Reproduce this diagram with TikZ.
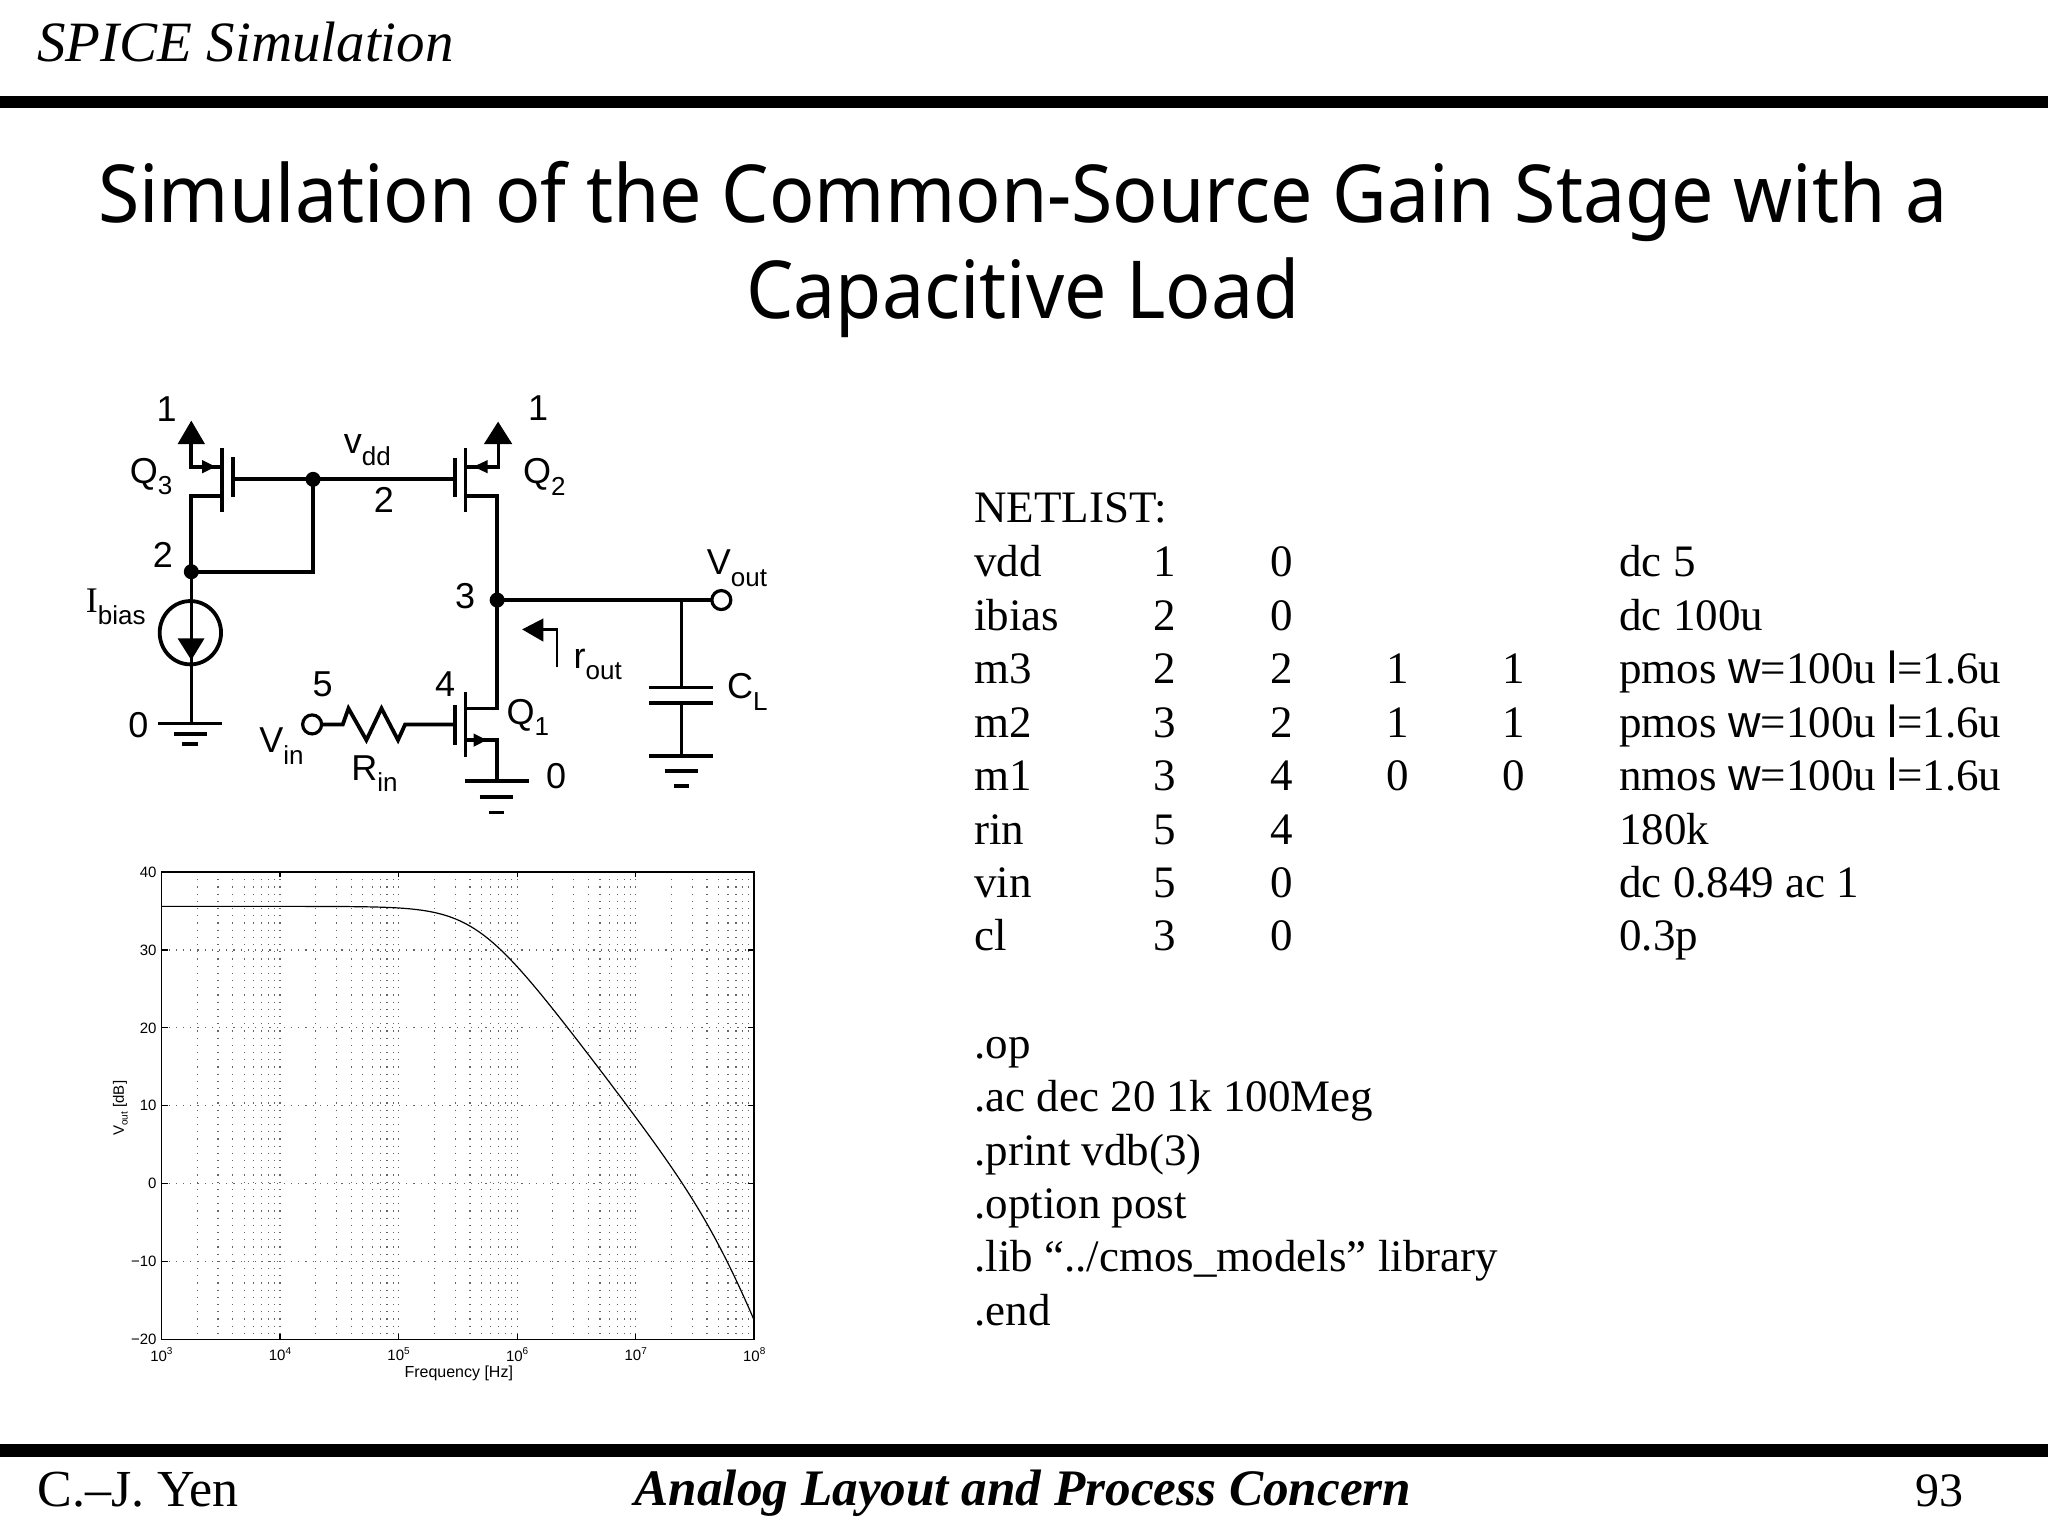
\documentclass[tikz,border=0pt]{standalone}
\usepackage{fontspec}
\setmainfont{Liberation Serif}
\setsansfont{Liberation Sans}
\newfontfamily\titlefont[FakeStretch=0.94]{Noto Sans}
\usetikzlibrary{calc}
\newcommand{\lsub}[1]{\raisebox{-0.32em}{\fontsize{13}{13}\selectfont\sffamily #1}}
\newcommand{\wl}[1]{{\sffamily #1}}
\tikzset{
  wire/.style={line width=1.9pt,line join=miter},
  thin wire/.style={line width=1.4pt},
  dotn/.style={circle,fill=black,inner sep=0pt,minimum size=7.5pt},
  term/.style={circle,draw=black,line width=1.6pt,fill=white,inner sep=0pt,minimum size=9.5pt},
  head/.style={fill=black,draw=none},
  lab/.style={font=\sffamily\fontsize{18}{18}\selectfont,inner sep=0pt},
  net/.style={font=\fontsize{22.5}{22.5}\selectfont,anchor=base west,inner sep=0pt},
  netc/.style={font=\fontsize{22.5}{22.5}\selectfont,anchor=base,inner sep=0pt},
  tick/.style={font=\sffamily\fontsize{7.5}{7.5}\selectfont,inner sep=0pt},
  griddot/.style={line width=0.6pt,dash pattern=on 0.6pt off 3pt,black!60},
}
\newcommand{\nrow}[8]{%
  \node[net] (nm#1) at (974,#2) {#3};
  \node[netc] (a#1) at (1165,#2) {#4};
  \node[netc] (b#1) at (1282,#2) {#5};
  \node[netc] (c#1) at (1398,#2) {#6};
  \node[netc] (d#1) at (1514,#2) {#7};
  \node[net] (e#1) at (1619,#2) {#8};
}
\begin{document}
\begin{tikzpicture}[x=0.5pt,y=-0.5pt]
\useasboundingbox (0,0) rectangle (2048,1536);
\fill[white] (0,0) rectangle (2048,1536);
% frame
\fill[black] (0,96) rectangle (2048,108);
\fill[black] (0,1444) rectangle (2048,1457);
\node[anchor=base west,inner sep=0pt,font=\itshape\fontsize{28.5}{28.5}\selectfont] (hdr) at (37,62) {SPICE Simulation};
\node[anchor=base,inner sep=0pt,font=\titlefont\fontsize{40}{40}\selectfont] (t1) at (1023,222) {Simulation of the Common-Source Gain Stage with a};
\node[anchor=base,inner sep=0pt,font=\titlefont\fontsize{40}{40}\selectfont] (t2) at (1023,318) {Capacitive Load};
\node[anchor=base west,inner sep=0pt,font=\fontsize{26}{26}\selectfont] (auth) at (37,1506) {C.–J. Yen};
\node[anchor=base,inner sep=0pt,font=\bfseries\itshape\fontsize{25.6}{25.6}\selectfont] (book) at (1023,1505) {Analog Layout and Process Concern};
\node[anchor=base east,inner sep=0pt,font=\fontsize{24}{24}\selectfont] (pg) at (1964,1506) {93};
% netlist
\node[net] (nlh) at (974,522) {NETLIST:};
\nrow{1}{576}{vdd}{1}{0}{}{}{dc 5}
\nrow{2}{630}{ibias}{2}{0}{}{}{dc 100u}
\nrow{3}{683}{m3}{2}{2}{1}{1}{pmos \wl{w}=100u \wl{l}=1.6u}
\nrow{4}{737}{m2}{3}{2}{1}{1}{pmos \wl{w}=100u \wl{l}=1.6u}
\nrow{5}{790}{m1}{3}{4}{0}{0}{nmos \wl{w}=100u \wl{l}=1.6u}
\nrow{6}{844}{rin}{5}{4}{}{}{180k}
\nrow{7}{897}{vin}{5}{0}{}{}{dc 0.849 ac 1}
\nrow{8}{950}{cl}{3}{0}{}{}{0.3p}
\node[net] (op) at (974,1058) {.op};
\node[net] (ac) at (974,1111) {.ac dec 20 1k 100Meg};
\node[net] (pr) at (974,1165) {.print vdb(3)};
\node[net] (opt) at (974,1218) {.option post};
\node[net] (libr) at (974,1271) {.lib “../cmos\_models” library};
\node[net] (end) at (974,1325) {.end};
% circuit, in coordinates of the crop
\begin{scope}[shift={(70,380)},x=0.236pt,y=-0.1667pt]
\coordinate (g3) at (345,298);
\coordinate (g2) at (815,298);
\coordinate (n2) at (515,298);
\coordinate (n2b) at (257,575);
\coordinate (n3) at (905,660);
\coordinate (vo) at (1380,660);
\coordinate (vi) at (513,1033);
\coordinate (capn) at (1295,660);
% Q3
\draw[wire] (322,205) -- (322,395);
\draw[wire] (345,232) -- (345,352);
\draw[wire] (257,190) -- (257,260) -- (322,260);
\fill[head] (280,240) -- (308,260) -- (280,280) -- cycle;
\fill[head] (257,122) -- (228,192) -- (286,192) -- cycle;
\draw[wire] (322,347) -- (257,347) -- (n2b);
\draw[wire] (g3) -- (g2);
\draw[wire] (n2b) -- (515,575) -- (n2);
\node[dotn] (d2) at (n2) {};
\node[dotn] (d2b) at (n2b) {};
% Ibias
\draw[thin wire] (n2b) -- (257,1030);
\draw[wire] (255,758) ellipse [x radius=65,y radius=95];
\fill[head] (228,775) -- (285,775) -- (257,840) -- cycle;
\draw[wire] (187,1030) -- (322,1030);
\draw[wire] (220,1062) -- (290,1062);
\draw[wire] (238,1092) -- (272,1092);
% Q2
\draw[wire] (815,235) -- (815,352);
\draw[wire] (838,205) -- (838,395);
\draw[wire] (838,260) -- (908,260) -- (908,190);
\fill[head] (885,240) -- (855,260) -- (885,280) -- cycle;
\fill[head] (907,125) -- (877,192) -- (937,192) -- cycle;
\draw[wire] (838,347) -- (905,347) -- (905,985) -- (838,985);
% Q1
\draw[wire] (838,935) -- (838,1130);
\draw[wire] (815,975) -- (815,1095);
\draw[wire] (838,1080) -- (905,1080) -- (905,1203);
\fill[head] (855,1060) -- (883,1080) -- (855,1100) -- cycle;
\draw[wire] (837,1203) -- (972,1203);
\draw[wire] (868,1250) -- (938,1250);
\draw[wire] (888,1297) -- (920,1297);
% input
\draw[wire] (vi) -- (578,1033) -- (590,985) -- (628,1080) -- (660,985) -- (695,1080) -- (710,1033) -- (815,1033);
\node[term] (vin) at (vi) {};
% output
\draw[wire] (n3) -- (vo);
\node[term] (vout) at (vo) {};
\node[dotn] (d3) at (n3) {};
\draw[thin wire] (capn) -- (1295,922);
\draw[wire] (1227,922) -- (1363,922);
\draw[wire] (1227,968) -- (1363,968);
\draw[thin wire] (1295,968) -- (1295,1127);
\draw[wire] (1227,1127) -- (1363,1127);
\draw[wire] (1260,1172) -- (1330,1172);
\draw[wire] (1280,1218) -- (1312,1218);
% rout
\fill[head] (958,748) -- (1003,715) -- (1003,785) -- cycle;
\draw[thin wire] (1000,748) -- (1032,748) -- (1032,860);
% labels
\node[lab] (l1a) at (205,88) {1};
\node[lab] (l1b) at (992,85) {1};
\node[lab] (lq3) at (172,290) {Q\lsub{3}};
\node[lab] (lq2) at (1005,290) {Q\lsub{2}};
\node[lab] (lq1) at (970,1012) {Q\lsub{1}};
\node[lab] (lv) at (630,210) {v\lsub{dd}};
\node[lab] (l2a) at (665,360) {2};
\node[lab] (l2b) at (197,525) {2};
\node[lab] (l3) at (837,647) {3};
\node[lab] (l4) at (795,912) {4};
\node[lab] (l5) at (535,912) {5};
\node[lab] (l0a) at (145,1035) {0};
\node[lab] (l0b) at (1030,1188) {0};
\node[lab,font=\fontsize{18}{18}\selectfont] (libs) at (97,680) {I\lsub{bias}};
\node[lab] (lvo) at (1413,565) {V\lsub{out}};
\node[lab] (lvi) at (448,1098) {V\lsub{in}};
\node[lab] (lrin) at (645,1180) {R\lsub{in}};
\node[lab] (lro) at (1118,853) {r\lsub{out}};
\node[lab] (lcl) at (1435,935) {C\lsub{L}};
\end{scope}
% plot, in coordinates of the crop
\begin{scope}[shift={(90,848)},x=0.2232pt,y=-0.177pt,
  declare function={px(\d)=160+(\d-3)*265.6; py(\v)=68+(40-\v)*22;
  lpole(\z)=20*max(\z,0)+10*log10(1+pow(10,-2*min(abs(\z),2)));
  gain(\d)=35.6-lpole(\d-5.653)-lpole(\d-7.748);}]
\foreach \dec in {3,...,7}{
  \foreach \m in {1,...,9}{
    \pgfmathsetmacro{\gx}{160+(\dec-3+log10(\m))*265.6}
    \draw[griddot] (\gx,68) -- (\gx,1388);
  }
}
\foreach \v in {-10,0,...,30}{
  \pgfmathsetmacro{\gy}{68+(40-\v)*22}
  \draw[griddot] (160,\gy) -- (1488,\gy);
  \draw[line width=0.6pt] (160,\gy) -- (175,\gy);
  \draw[line width=0.6pt] (1488,\gy) -- (1473,\gy);
}
\foreach \dec in {3,...,8}{
  \pgfmathsetmacro{\gx}{160+(\dec-3)*265.6}
  \draw[line width=0.6pt] (\gx,68) -- (\gx,83);
  \draw[line width=0.6pt] (\gx,1388) -- (\gx,1373);
  \node[tick] (xt\dec) at (\gx,1430) {10\raisebox{0.45em}{\fontsize{5}{5}\selectfont\dec}};
}
\draw[line width=0.8pt] (160,68) rectangle (1488,1388);
\foreach \v/\t in {40/40,30/30,20/20,10/10,0/0,-10/{−10},-20/{−20}}{
  \pgfmathsetmacro{\gy}{68+(40-\v)*22}
  \node[tick,anchor=east] (yt\v) at (150,\gy) {\t};
}
\draw[line width=0.6pt] plot[domain=3:8,samples=120,smooth] ({px(\x)},{py(gain(\x))});
\node[tick,font=\sffamily\fontsize{8}{8}\selectfont] (xl) at (826,1484) {Frequency [Hz]};
\node[tick,rotate=90] (yl) at (68,735) {V\raisebox{-0.25em}{\fontsize{5}{5}\selectfont out} [dB]};
\end{scope}
\end{tikzpicture}
\end{document}
